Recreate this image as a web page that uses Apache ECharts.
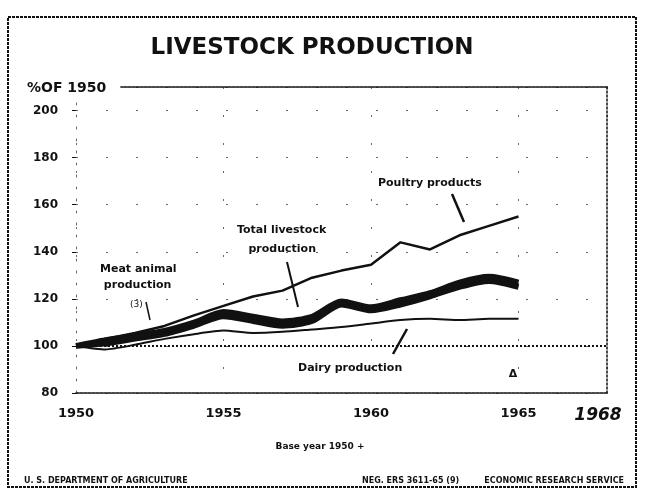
<!DOCTYPE html>
<html>
<head>
<meta charset="utf-8">
<script src="https://cdn.jsdelivr.net/npm/echarts@6/dist/echarts.min.js"></script>
<style>
html, body { margin: 0; background: #fff; }
#chart { width: 663px; height: 492px; }
</style>
</head>
<body>
<div id="chart"></div>
<script>
// index, % of 1950
const years = [1950, 1951, 1952, 1953, 1954, 1955, 1956, 1957, 1958, 1959, 1960, 1961, 1962, 1963, 1964, 1965];
const poultry   = [100, 103, 105.5, 108.5, 113, 117, 121, 123.5, 129, 132, 134.5, 144, 141, 147, 151, 155];
const total     = [100, 102.5, 104.5, 106.5, 110, 114.5, 112.5, 110.5, 112.5, 119, 116.5, 119.5, 122.5, 127, 129.5, 127];
const meat      = [100, 101, 103, 105, 108.5, 112.5, 110.5, 108.5, 110.5, 117.5, 115, 117.5, 121, 125, 127.5, 125];
const dairy     = [100, 98.5, 100.5, 103, 105, 106.5, 105.5, 106, 107, 108, 109.5, 111, 111.5, 111, 111.5, 111.5];
const xTicks = [1950, 1955, 1960, 1965, 1968];
const yTicks = [80, 100, 120, 140, 160, 180, 200];

const font = 'DejaVu Sans';
const ink = '#111';

function pairs(vals) {
    return years.map((y, i) => [y, vals[i]]);
}

const chart = echarts.init(document.getElementById('chart'));

const option = {
    backgroundColor: '#fff',
    animation: false,
    grid: { left: 76, right: 56, top: 87, bottom: 99 },
    xAxis: [{
        type: 'value',
        min: 1950, max: 1968, interval: 5,
        axisLine: { show: true, lineStyle: { color: ink, width: 1.5, type: [3, 1] } },
        axisTick: { show: false },
        axisLabel: {
            margin: 14,
            color: ink,
            fontFamily: font,
            fontSize: 13,
            fontWeight: 'bold',
            formatter: function (v) {
                if (!xTicks.includes(v)) return '';
                return v === 1968 ? '{b|' + v + '}' : String(v);
            },
            rich: {
                b: { fontFamily: font, fontSize: 17, fontWeight: 'bold', fontStyle: 'italic', color: ink, padding: [0, 18, 0, 0] }
            }
        },
        splitLine: { show: true, lineStyle: { color: '#666', width: 1, type: [2, 26] } }
    }, {
        type: 'value', position: 'top',
        min: 1950, max: 1968,
        axisLine: { show: true, lineStyle: { color: ink, width: 1.5, type: [3, 1] } },
        axisTick: { show: false }, axisLabel: { show: false }, splitLine: { show: false }
    }],
    yAxis: [{
        type: 'value',
        min: 80, max: 210, interval: 20,
        axisLine: { show: true, lineStyle: { color: '#666', width: 1, type: [2, 10] } },
        axisTick: { show: true, length: 4, lineStyle: { color: ink } },
        axisLabel: {
            margin: 18,
            color: ink,
            fontFamily: font,
            fontSize: 12,
            fontWeight: 'bold',
            formatter: v => yTicks.includes(v) ? String(v) : ''
        },
        splitLine: { show: true, lineStyle: { color: '#666', width: 1, type: [2, 28] } }
    }, {
        type: 'value', position: 'right',
        min: 80, max: 210,
        axisLine: { show: true, lineStyle: { color: ink, width: 1.5, type: [2, 2] } },
        axisTick: { show: false }, axisLabel: { show: false }, splitLine: { show: false }
    }],
    series: [
        {
            name: 'Dairy production',
            type: 'line',
            data: pairs(dairy),
            symbol: 'none',
            smooth: 0.2,
            lineStyle: { color: ink, width: 2 },
            markLine: {
                silent: true,
                symbol: 'none',
                label: { show: false },
                lineStyle: { color: ink, width: 2, type: [2, 2] },
                data: [{ yAxis: 100 }]
            }
        },
        {
            name: 'Meat animal production',
            type: 'line',
            data: pairs(meat),
            symbol: 'none',
            smooth: 0.25,
            lineStyle: { color: ink, width: 5.5 }
        },
        {
            name: 'Total livestock production',
            type: 'line',
            data: pairs(total),
            symbol: 'none',
            smooth: 0.25,
            lineStyle: { color: ink, width: 5.5 }
        },
        {
            name: 'Poultry products',
            type: 'line',
            data: pairs(poultry),
            symbol: 'none',
            lineStyle: { color: ink, width: 2.5 }
        }
    ],
    graphic: [
        { type: 'rect', shape: { x: 8, y: 17, width: 628, height: 470 },
          style: { fill: 'none', stroke: ink, lineWidth: 2, lineDash: [3, 1] } },
        { type: 'text', x: 312, y: 48,
          style: { text: 'LIVESTOCK PRODUCTION', fontFamily: font, fontSize: 23, fontWeight: 'bold',
                   fill: ink, align: 'center', verticalAlign: 'middle' } },
        { type: 'text', x: 27, y: 88, z: 10,
          style: { text: '%OF 1950', fontFamily: font, fontSize: 14, fontWeight: 'bold', fill: ink,
                   verticalAlign: 'middle', backgroundColor: '#fff', padding: [2, 14, 2, 0] } },

        // annotations
        { type: 'text', x: 100, y: 277,
          style: { text: 'Meat animal\n production', fontFamily: font, fontSize: 11, fontWeight: 'bold',
                   fill: ink, verticalAlign: 'middle', lineHeight: 16 } },
        { type: 'text', x: 130, y: 305,
          style: { text: '(3)', fontFamily: font, fontSize: 9, fill: ink, verticalAlign: 'middle' } },
        { type: 'line', shape: { x1: 146, y1: 302, x2: 150, y2: 320 }, style: { stroke: ink, lineWidth: 1.5 } },

        { type: 'text', x: 237, y: 240,
          style: { text: 'Total livestock\n   production', fontFamily: font, fontSize: 11, fontWeight: 'bold',
                   fill: ink, verticalAlign: 'middle', lineHeight: 19 } },
        { type: 'line', shape: { x1: 287, y1: 262, x2: 298, y2: 307 }, style: { stroke: ink, lineWidth: 2 } },

        { type: 'text', x: 378, y: 183,
          style: { text: 'Poultry products', fontFamily: font, fontSize: 11, fontWeight: 'bold',
                   fill: ink, verticalAlign: 'middle' } },
        { type: 'line', shape: { x1: 452, y1: 194, x2: 464, y2: 222 }, style: { stroke: ink, lineWidth: 2.5 } },

        { type: 'text', x: 298, y: 368,
          style: { text: 'Dairy production', fontFamily: font, fontSize: 11, fontWeight: 'bold',
                   fill: ink, verticalAlign: 'middle' } },
        { type: 'line', shape: { x1: 393, y1: 354, x2: 407, y2: 329 }, style: { stroke: ink, lineWidth: 2.5 } },

        { type: 'text', x: 513, y: 374,
          style: { text: '\u0394', fontFamily: font, fontSize: 11, fontWeight: 'bold', fill: ink,
                   align: 'center', verticalAlign: 'middle' } },

        // notes
        { type: 'text', x: 320, y: 447,
          style: { text: 'Base year 1950 +', fontFamily: font, fontSize: 9, fontWeight: 'bold',
                   fill: ink, align: 'center', verticalAlign: 'middle' } },
        { type: 'text', x: 24, y: 481,
          style: { text: 'U. S. DEPARTMENT OF AGRICULTURE', fontFamily: font, fontSize: 8, fontWeight: 'bold',
                   fill: ink, verticalAlign: 'middle' } },
        { type: 'text', x: 362, y: 481,
          style: { text: 'NEG. ERS 3611-65 (9)', fontFamily: font, fontSize: 8, fontWeight: 'bold',
                   fill: ink, verticalAlign: 'middle' } },
        { type: 'text', x: 624, y: 481,
          style: { text: 'ECONOMIC RESEARCH SERVICE', fontFamily: font, fontSize: 8, fontWeight: 'bold',
                   fill: ink, align: 'right', verticalAlign: 'middle' } }
    ]
};

chart.setOption(option);
</script>
</body>
</html>
